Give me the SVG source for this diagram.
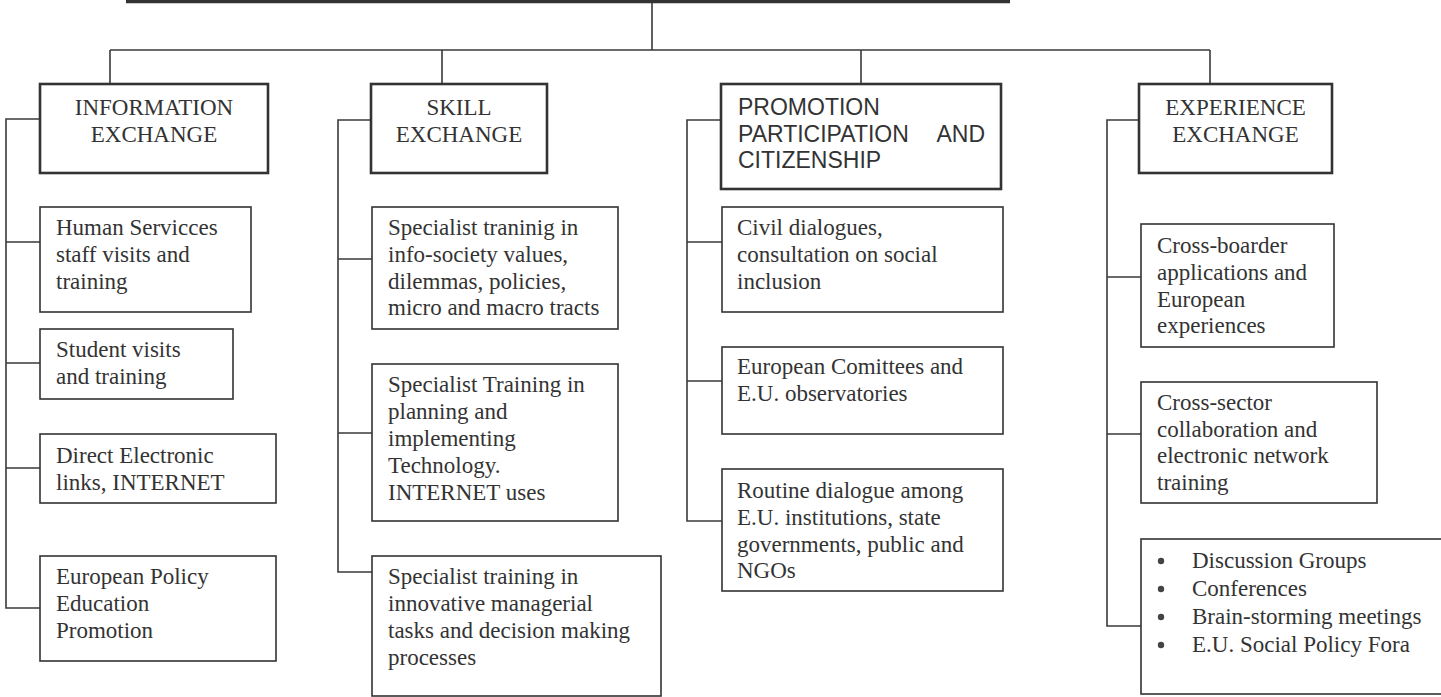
<svg xmlns="http://www.w3.org/2000/svg" width="1441" height="697" viewBox="0 0 1441 697">
<style>
.bg{fill:#ffffff}
.hdr{fill:#ffffff;stroke:#333333;stroke-width:2.6}
.box{fill:#ffffff;stroke:#333333;stroke-width:1.6}
.ln{fill:none;stroke:#3a3a3a;stroke-width:1.6}
.t{font-family:"Liberation Serif","Times New Roman",serif;font-size:23px;fill:#333333}
.s{font-family:"Liberation Sans",Arial,sans-serif;font-size:23px;fill:#333333}
.c{text-anchor:middle}
.dot{fill:#444444}
</style>
<rect class="bg" x="0" y="0" width="1441" height="697"/>
<g id="connectors">
<line x1="126" y1="1.5" x2="1010" y2="1.5" stroke="#333333" stroke-width="3.5"/>
<path class="ln" d="M652 3 V50 M110 50 H1210 M110 50 V84 M442 50 V84 M861 50 V84 M1210 50 V84"/>
<path class="ln" d="M40 119 H6 V608 H40 M6 242 H40 M6 363 H40 M6 468 H40"/>
<path class="ln" d="M371 120 H338 V572 H372 M338 259 H372 M338 433 H372"/>
<path class="ln" d="M721 120 H687 V521 H722 M687 242 H722 M687 381 H722"/>
<path class="ln" d="M1139 120 H1107 V626 H1141 M1107 277 H1141 M1107 434 H1141"/>
</g>
<g id="info-exchange">
<rect class="hdr" x="40" y="84" width="228" height="89"/>
<text class="t c" x="154" y="115">INFORMATION</text>
<text class="t c" x="154" y="142">EXCHANGE</text>
</g>
<g id="skill-exchange">
<rect class="hdr" x="371" y="84" width="176" height="89"/>
<text class="t c" x="459" y="115">SKILL</text>
<text class="t c" x="459" y="142">EXCHANGE</text>
</g>
<g id="promotion">
<rect class="hdr" x="721" y="84" width="280" height="105"/>
<text class="s" x="738" y="115">PROMOTION</text>
<text class="s" x="738" y="142">PARTICIPATION</text>
<text class="s" x="985" y="142" text-anchor="end">AND</text>
<text class="s" x="738" y="168">CITIZENSHIP</text>
</g>
<g id="experience-exchange">
<rect class="hdr" x="1139" y="84" width="193" height="89"/>
<text class="t c" x="1235.5" y="115">EXPERIENCE</text>
<text class="t c" x="1235.5" y="142">EXCHANGE</text>
</g>
<g id="human-services">
<rect class="box" x="40" y="207" width="211" height="105"/>
<text class="t" x="56" y="235">Human Servicces</text>
<text class="t" x="56" y="262">staff visits and</text>
<text class="t" x="56" y="289">training</text>
</g>
<g id="student-visits">
<rect class="box" x="40" y="329" width="193" height="70"/>
<text class="t" x="56" y="357">Student visits</text>
<text class="t" x="56" y="384">and training</text>
</g>
<g id="direct-electronic">
<rect class="box" x="40" y="434" width="236" height="69"/>
<text class="t" x="56" y="463">Direct Electronic</text>
<text class="t" x="56" y="490">links, INTERNET</text>
</g>
<g id="european-policy">
<rect class="box" x="40" y="556" width="236" height="105"/>
<text class="t" x="56" y="584">European Policy</text>
<text class="t" x="56" y="611">Education</text>
<text class="t" x="56" y="638">Promotion</text>
</g>
<g id="specialist-info-society">
<rect class="box" x="372" y="207" width="246" height="122"/>
<text class="t" x="388" y="235">Specialist traninig in</text>
<text class="t" x="388" y="262">info-society values,</text>
<text class="t" x="388" y="289">dilemmas, policies,</text>
<text class="t" x="388" y="315">micro and macro tracts</text>
</g>
<g id="specialist-planning">
<rect class="box" x="372" y="364" width="246" height="157"/>
<text class="t" x="388" y="392">Specialist Training in</text>
<text class="t" x="388" y="419">planning and</text>
<text class="t" x="388" y="446">implementing</text>
<text class="t" x="388" y="473">Technology.</text>
<text class="t" x="388" y="500">INTERNET uses</text>
</g>
<g id="specialist-managerial">
<rect class="box" x="372" y="556" width="289" height="140"/>
<text class="t" x="388" y="584">Specialist training in</text>
<text class="t" x="388" y="611">innovative managerial</text>
<text class="t" x="388" y="638">tasks and decision making</text>
<text class="t" x="388" y="665">processes</text>
</g>
<g id="civil-dialogues">
<rect class="box" x="722" y="207" width="281" height="105"/>
<text class="t" x="737" y="235">Civil dialogues,</text>
<text class="t" x="737" y="262">consultation on social</text>
<text class="t" x="737" y="289">inclusion</text>
</g>
<g id="european-committees">
<rect class="box" x="722" y="347" width="281" height="87"/>
<text class="t" x="737" y="374">European Comittees and</text>
<text class="t" x="737" y="401">E.U. observatories</text>
</g>
<g id="routine-dialogue">
<rect class="box" x="722" y="469" width="281" height="122"/>
<text class="t" x="737" y="498">Routine dialogue among</text>
<text class="t" x="737" y="525">E.U. institutions, state</text>
<text class="t" x="737" y="552">governments, public and</text>
<text class="t" x="737" y="578">NGOs</text>
</g>
<g id="cross-boarder">
<rect class="box" x="1141" y="224" width="193" height="123"/>
<text class="t" x="1157" y="253">Cross-boarder</text>
<text class="t" x="1157" y="280">applications and</text>
<text class="t" x="1157" y="307">European</text>
<text class="t" x="1157" y="333">experiences</text>
</g>
<g id="cross-sector">
<rect class="box" x="1141" y="382" width="236" height="121"/>
<text class="t" x="1157" y="410">Cross-sector</text>
<text class="t" x="1157" y="437">collaboration and</text>
<text class="t" x="1157" y="463">electronic network</text>
<text class="t" x="1157" y="490">training</text>
</g>
<g id="activities-list">
<rect class="box" x="1141" y="539" width="310" height="155"/>
<circle class="dot" cx="1161" cy="561" r="3.2"/>
<circle class="dot" cx="1161" cy="589" r="3.2"/>
<circle class="dot" cx="1161" cy="617" r="3.2"/>
<circle class="dot" cx="1161" cy="645" r="3.2"/>
<text class="t" x="1192" y="568">Discussion Groups</text>
<text class="t" x="1192" y="596">Conferences</text>
<text class="t" x="1192" y="624">Brain-storming meetings</text>
<text class="t" x="1192" y="652">E.U. Social Policy Fora</text>
</g>
</svg>
